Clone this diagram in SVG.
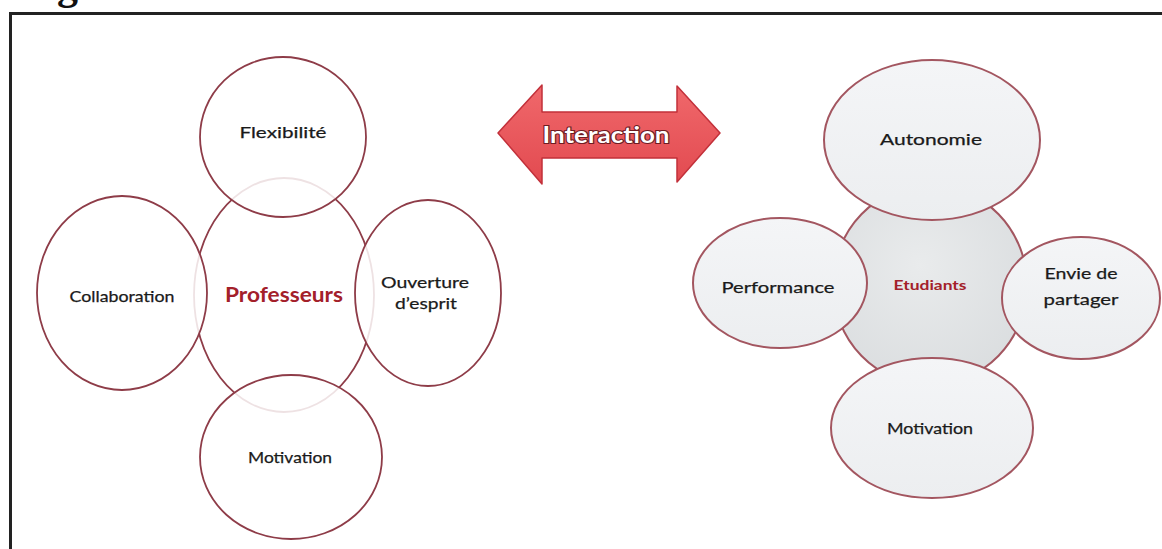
<svg xmlns="http://www.w3.org/2000/svg" width="1162" height="549" viewBox="0 0 1162 549">
  <defs>
    <linearGradient id="bubble" x1="0" y1="0" x2="0" y2="1">
      <stop offset="0" stop-color="#f4f5f7"/>
      <stop offset="1" stop-color="#eceef0"/>
    </linearGradient>
    <radialGradient id="core" cx="0.45" cy="0.4" r="0.7">
      <stop offset="0" stop-color="#e9ebec"/>
      <stop offset="1" stop-color="#d9dcde"/>
    </radialGradient>
    <linearGradient id="arrowFill" x1="0" y1="0" x2="0" y2="1">
      <stop offset="0" stop-color="#f0686b"/>
      <stop offset="1" stop-color="#e24a50"/>
    </linearGradient>
  </defs>
  <style>
    .ring { fill: #ffffff; stroke: #8e3c48; stroke-width: 1.8; }
    .sat { fill: #ffffff; fill-opacity: 0.85; stroke: #8e3c48; stroke-width: 1.8; }
    .bub { fill: url(#bubble); stroke: #a35660; stroke-width: 2; }
    .lbl { font-family: Lato, "Open Sans", sans-serif; font-size: 16px; fill: #1a1a1a; text-anchor: middle; stroke: #1a1a1a; stroke-width: 0.25; }
    .hub { font-family: Lato, "Open Sans", sans-serif; font-weight: bold; fill: #a3202a; text-anchor: middle; }
    .frame { stroke: #222222; stroke-width: 3; fill: none; }
  </style>

  <rect width="1162" height="549" fill="#ffffff"/>

  <!-- title descender above the frame -->
  <text x="57" y="-1" font-family="'Liberation Serif', serif" font-weight="bold" font-size="42" fill="#111">g</text>

  <!-- frame -->
  <path class="frame" d="M10.5,549 V13.5 H1162"/>

  <!-- connectors -->
  <g id="connectors">
    <path d="M498,133 L542,85 L542,112 L677,112 L677,86 L720,133 L677,182 L677,158 L542,158 L542,184 Z" fill="url(#arrowFill)" stroke="#c2303a" stroke-width="1.5" stroke-linejoin="round"/>
    <text x="606" y="143" font-family="Lato, 'Open Sans', sans-serif" font-weight="bold" font-size="23" fill="#ffffff" stroke="#6e1c22" stroke-width="2.2" paint-order="stroke" text-anchor="middle" textLength="127" lengthAdjust="spacingAndGlyphs">Interaction</text>
  </g>

  <!-- teacher cluster -->
  <g id="professeurs">
    <ellipse class="ring" cx="284" cy="295" rx="90" ry="117"/>
    <text class="hub" x="284" y="302" font-size="20" textLength="118" lengthAdjust="spacingAndGlyphs">Professeurs</text>
  </g>
  <g id="flexibilite">
    <ellipse class="sat" cx="283" cy="137" rx="83" ry="80"/>
    <text class="lbl" x="283" y="138" textLength="87" lengthAdjust="spacingAndGlyphs">Flexibilité</text>
  </g>
  <g id="collaboration">
    <ellipse class="sat" cx="122" cy="293" rx="85" ry="97"/>
    <text class="lbl" x="122" y="302" textLength="105" lengthAdjust="spacingAndGlyphs">Collaboration</text>
  </g>
  <g id="ouverture">
    <ellipse class="sat" cx="428" cy="293" rx="73" ry="93"/>
    <text class="lbl" x="425" y="288" font-size="14" textLength="88" lengthAdjust="spacingAndGlyphs">Ouverture</text>
    <text class="lbl" x="426" y="309" font-size="14" textLength="62" lengthAdjust="spacingAndGlyphs">d’esprit</text>
  </g>
  <g id="motivation-professeurs">
    <ellipse class="sat" cx="291" cy="457" rx="91" ry="82"/>
    <text class="lbl" x="290" y="463" textLength="84" lengthAdjust="spacingAndGlyphs">Motivation</text>
  </g>

  <!-- student cluster -->
  <g id="etudiants">
    <ellipse cx="930" cy="285" rx="97" ry="100" fill="url(#core)" stroke="#a35660" stroke-width="2"/>
    <text class="hub" x="930" y="290" font-size="14" textLength="73" lengthAdjust="spacingAndGlyphs">Etudiants</text>
  </g>
  <g id="autonomie">
    <ellipse class="bub" cx="932" cy="140" rx="108" ry="80"/>
    <text class="lbl" x="931" y="145" font-size="18" textLength="102" lengthAdjust="spacingAndGlyphs">Autonomie</text>
  </g>
  <g id="performance">
    <ellipse class="bub" cx="780" cy="283" rx="87" ry="65"/>
    <text class="lbl" x="778" y="293" font-size="18" textLength="113" lengthAdjust="spacingAndGlyphs">Performance</text>
  </g>
  <g id="envie">
    <ellipse class="bub" cx="1081" cy="298" rx="79" ry="61"/>
    <text class="lbl" x="1081" y="279" font-size="18" textLength="73" lengthAdjust="spacingAndGlyphs">Envie de</text>
    <text class="lbl" x="1081" y="305" font-size="18" textLength="75" lengthAdjust="spacingAndGlyphs">partager</text>
  </g>
  <g id="motivation-etudiants">
    <ellipse class="bub" cx="932" cy="428" rx="101" ry="70"/>
    <text class="lbl" x="930" y="434" textLength="86" lengthAdjust="spacingAndGlyphs">Motivation</text>
  </g>
</svg>
